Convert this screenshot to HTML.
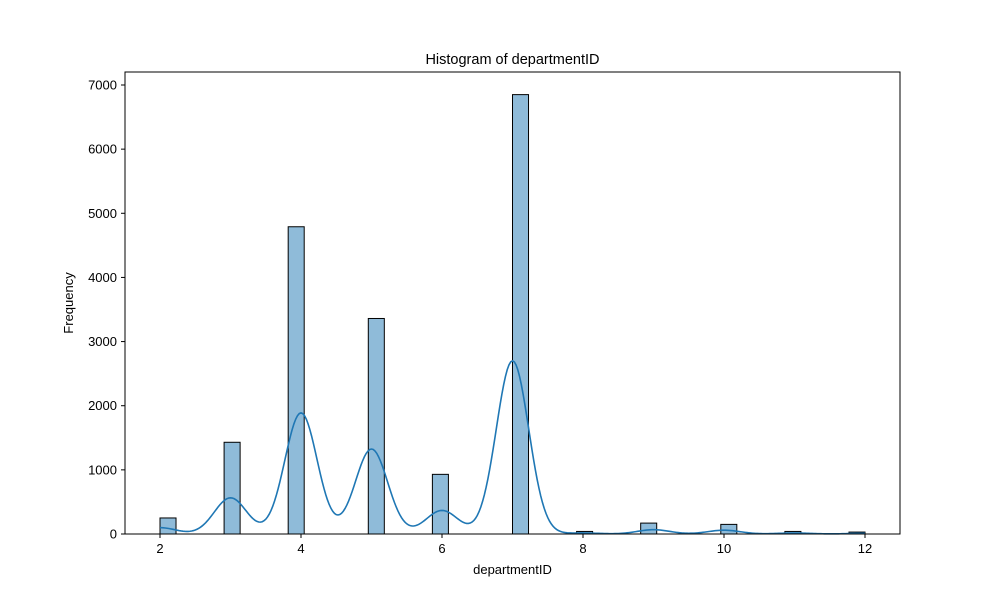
<!DOCTYPE html>
<html><head><meta charset="utf-8"><style>
body{margin:0;background:#fff;font-family:"Liberation Sans","DejaVu Sans",sans-serif}
</style></head><body>
<svg id="chart" width="1000" height="600" xmlns="http://www.w3.org/2000/svg">
<rect width="1000" height="600" fill="#fff"/>
<text x="512.5" y="64" font-size="14.5" text-anchor="middle">Histogram of departmentID</text>
<g id="bars"></g>
<path id="kde" fill="none" stroke="#1f77b4" stroke-width="1.6"/>
<rect x="125" y="72" width="775" height="462" fill="none" stroke="#000" stroke-width="1"/>
<g id="xaxis"></g>
<g id="yaxis"></g>
<text x="512.5" y="574" font-size="13" text-anchor="middle">departmentID</text>
<text transform="translate(73,303) rotate(-90)" font-size="13" text-anchor="middle">Frequency</text>
</svg>
<script>
const categories=[2,3,4,5,6,7,8,9,10,11,12];
const counts=[250,1430,4790,3360,930,6850,40,170,150,40,30];
const xTicks=[2,4,6,8,10,12];
const yTicks=[0,1000,2000,3000,4000,5000,6000,7000];
const NS="http://www.w3.org/2000/svg";
const x=v=>160+(v-2)*70.5;
const y=v=>534-v*0.064143;
const binW=10/44;
const bars=document.getElementById('bars');
categories.forEach((c,i)=>{
  const k=Math.min(43,Math.floor((c-2)/binW+1e-9));
  const x0=2+k*binW;
  const r=document.createElementNS(NS,'rect');
  
  
  r.setAttribute('x',x(x0));r.setAttribute('width',x(x0+binW)-x(x0));
  r.setAttribute('y',y(counts[i]));r.setAttribute('height',y(0)-y(counts[i]));
  r.setAttribute('fill','rgba(31,119,180,0.5)');r.setAttribute('stroke','#000');r.setAttribute('stroke-width','1');
  bars.appendChild(r);
});
const h=0.23;
let d='';
for(let i=0;i<=400;i++){
  const v=2+10*i/400;let s=0;
  categories.forEach((c,j)=>{s+=counts[j]*binW*Math.exp(-0.5*((v-c)/h)**2)/(h*Math.sqrt(2*Math.PI));});
  d+=(i?'L':'M')+x(v).toFixed(2)+','+y(s).toFixed(2);
}
document.getElementById('kde').setAttribute('d',d);
const xa=document.getElementById('xaxis');
xTicks.forEach(t=>{
  const l=document.createElementNS(NS,'line');
  
  
  l.setAttribute('x1',x(t));l.setAttribute('x2',x(t));l.setAttribute('y1',534);l.setAttribute('y2',538);l.setAttribute('stroke','#000');
  xa.appendChild(l);
  const tx=document.createElementNS(NS,'text');
  
  
  tx.setAttribute('x',x(t));tx.setAttribute('y',553);tx.setAttribute('font-size','13');tx.setAttribute('text-anchor','middle');
  tx.textContent=t;xa.appendChild(tx);
});
const ya=document.getElementById('yaxis');
yTicks.forEach(t=>{
  const l=document.createElementNS(NS,'line');
  
  
  l.setAttribute('x1',121);l.setAttribute('x2',125);l.setAttribute('y1',y(t));l.setAttribute('y2',y(t));l.setAttribute('stroke','#000');
  ya.appendChild(l);
  const tx=document.createElementNS(NS,'text');
  
  
  tx.setAttribute('x',117);tx.setAttribute('y',y(t)+4.5);tx.setAttribute('font-size','13');tx.setAttribute('text-anchor','end');
  tx.textContent=t;ya.appendChild(tx);
});
</script>
</body></html>
